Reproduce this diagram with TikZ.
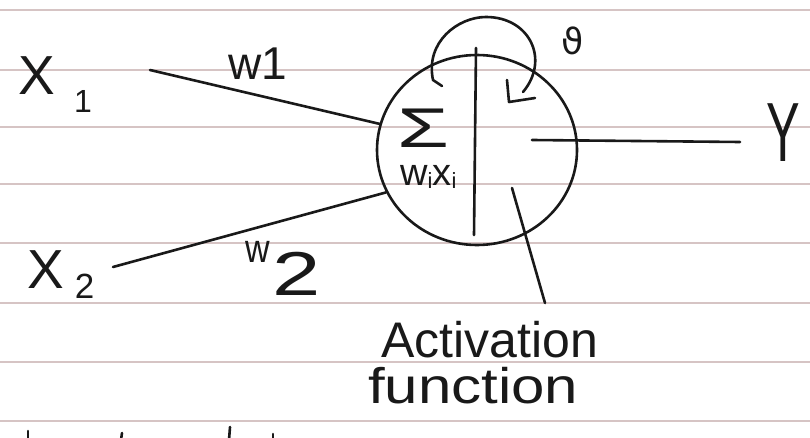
\documentclass[tikz,border=0pt]{standalone}
\usepackage{fontspec}
\setmainfont{Liberation Sans}
\newfontfamily\symfont{DejaVu Sans}
\usetikzlibrary{shapes.geometric}
\definecolor{inkc}{RGB}{25,25,25}
\definecolor{rulec}{RGB}{214,196,196}
\newcommand{\fs}[1]{\fontsize{#1}{#1}\selectfont}
\begin{document}
\begin{tikzpicture}[x=1pt,y=-1pt,
  ink/.style={draw=inkc,line width=2.6pt,line cap=round,line join=round},
  rule/.style={draw=rulec,line width=1.3pt},
  lbl/.style={text=inkc,inner sep=0pt,anchor=base west}]
\useasboundingbox[fill=white] (0,0) rectangle (810,438);
% ruled paper
\foreach \yy in {10,70,127,184,243,303,362,421}
  \draw[rule] (0,\yy) -- (810,\yy);
% neuron
\node[ellipse,ink,minimum width=200pt,minimum height=190pt,inner sep=0pt] (neuron) at (477,150) {};
\draw[ink] (476,48) -- (474,235);
% inputs
\node[lbl] (x1) at (18,95) {\fs{55}X\hspace{0.35em}\raisebox{-18pt}{\fs{32}1}};
\node[lbl] (x2) at (27,288) {\fs{55}X\hspace{0.2em}\raisebox{-10pt}{\fs{35}2}};
\coordinate (x1end) at (150,70);
\coordinate (x2end) at (113,267);
\draw[ink] (x1end) -- (neuron.165);
\draw[ink] (x2end) -- (neuron.205);
\node[lbl] (w1) at (228,80) {\fs{46}w1};
\node[lbl] (w2) at (245,295) {\raisebox{33pt}{\fs{40}\scalebox{0.85}[1]{w}}\hspace{0.3em}{\fs{62}\scalebox{1.4}[1]{2}}};
% summation with its label
\node[text=inkc,inner sep=0pt,anchor=north west] (sigma) at (397,109)
  {\vtop{\offinterlineskip
    \hbox{\fs{56}\scalebox{1.5}[1]{Σ}}
    \kern18pt
    \hbox{\hskip3pt\fs{38}w\raisebox{-3pt}{\fs{22}i}x\raisebox{-3pt}{\fs{22}i}}}};
% feedback loop
\draw[ink] (442,86) -- (433,80) .. controls (425,42) and (458,17) .. (486,17)
  .. controls (530,17) and (550,60) .. (523,92);
\draw[ink] (507,80) -- (509,102) -- (535,98);
\node[lbl] (theta) at (561,55) {\symfont\fs{36}ϑ};
% output
\coordinate (outa) at (532,140);
\coordinate (outb) at (740,142);
\draw[ink] (outa) -- (outb);
\node[lbl] (y) at (766,162) {\fs{84}\scalebox{0.6}[1]{Y}};
% activation label
\coordinate (acta) at (512,188);
\coordinate (actb) at (545,303);
\draw[ink] (acta) -- (actb);
\node[lbl] (act1) at (381,357) {\fs{50}Activation};
\node[lbl] (act2) at (368,403) {\fs{50}\scalebox{1.2}[1]{function}};
% cut-off strokes at the bottom edge
\draw[ink] (28,431) -- (28,440);
\draw[ink] (122,433) -- (121,440);
\draw[ink] (230,427) -- (229,440);
\draw[ink] (273,434) -- (273,440);
\end{tikzpicture}
\end{document}
